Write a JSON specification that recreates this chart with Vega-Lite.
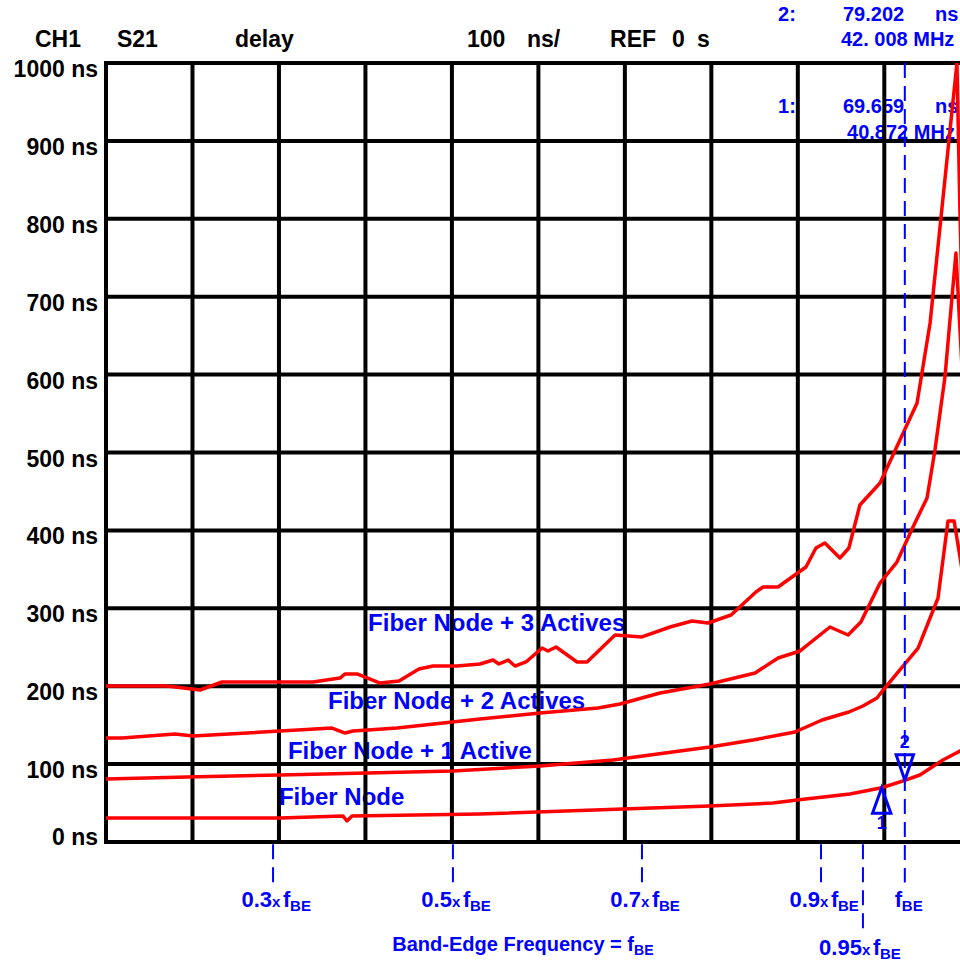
{
  "$schema": "https://vega.github.io/schema/vega-lite/v6.json",
  "width": 854,
  "height": 779,
  "autosize": {"type": "none"},
  "padding": {"left": 106, "top": 63, "right": 0, "bottom": 121},
  "background": "white",
  "config": {
    "view": {"stroke": null},
    "text": {"font": "Liberation Sans", "fontWeight": "bold"}
  },
  "datasets": {
    "curves": [
      {"series": "Fiber Node", "f": 2.75, "ns": 30.8},
      {"series": "Fiber Node", "f": 11.30, "ns": 30.8},
      {"series": "Fiber Node", "f": 14.40, "ns": 33.4},
      {"series": "Fiber Node", "f": 14.59, "ns": 27.0},
      {"series": "Fiber Node", "f": 14.84, "ns": 33.4},
      {"series": "Fiber Node", "f": 21.13, "ns": 35.9},
      {"series": "Fiber Node", "f": 28.16, "ns": 42.4},
      {"series": "Fiber Node", "f": 32.43, "ns": 46.2},
      {"series": "Fiber Node", "f": 35.53, "ns": 50.1},
      {"series": "Fiber Node", "f": 36.71, "ns": 53.9},
      {"series": "Fiber Node", "f": 39.31, "ns": 61.6},
      {"series": "Fiber Node", "f": 40.872, "ns": 69.659},
      {"series": "Fiber Node", "f": 42.008, "ns": 79.202},
      {"series": "Fiber Node", "f": 42.75, "ns": 86.0},
      {"series": "Fiber Node", "f": 43.88, "ns": 105.3},
      {"series": "Fiber Node", "f": 44.72, "ns": 116.8},
      {"series": "Fiber Node", "f": 45.2, "ns": 125.0},

      {"series": "Fiber Node + 1 Active", "f": 2.75, "ns": 80.9},
      {"series": "Fiber Node + 1 Active", "f": 6.73, "ns": 83.4},
      {"series": "Fiber Node + 1 Active", "f": 11.30, "ns": 86.0},
      {"series": "Fiber Node + 1 Active", "f": 15.58, "ns": 88.6},
      {"series": "Fiber Node + 1 Active", "f": 19.80, "ns": 91.1},
      {"series": "Fiber Node + 1 Active", "f": 24.08, "ns": 97.6},
      {"series": "Fiber Node + 1 Active", "f": 27.67, "ns": 105.3},
      {"series": "Fiber Node + 1 Active", "f": 30.96, "ns": 116.8},
      {"series": "Fiber Node + 1 Active", "f": 32.43, "ns": 122.0},
      {"series": "Fiber Node + 1 Active", "f": 34.55, "ns": 130.9},
      {"series": "Fiber Node + 1 Active", "f": 36.61, "ns": 141.2},
      {"series": "Fiber Node + 1 Active", "f": 37.94, "ns": 156.6},
      {"series": "Fiber Node + 1 Active", "f": 39.26, "ns": 166.9},
      {"series": "Fiber Node + 1 Active", "f": 39.95, "ns": 174.6},
      {"series": "Fiber Node + 1 Active", "f": 40.64, "ns": 184.9},
      {"series": "Fiber Node + 1 Active", "f": 40.94, "ns": 195.1},
      {"series": "Fiber Node + 1 Active", "f": 41.92, "ns": 225.9},
      {"series": "Fiber Node + 1 Active", "f": 42.66, "ns": 249.0},
      {"series": "Fiber Node + 1 Active", "f": 43.64, "ns": 313.2},
      {"series": "Fiber Node + 1 Active", "f": 44.13, "ns": 412.1},
      {"series": "Fiber Node + 1 Active", "f": 44.43, "ns": 412.1},
      {"series": "Fiber Node + 1 Active", "f": 44.72, "ns": 365.9},
      {"series": "Fiber Node + 1 Active", "f": 45.0, "ns": 320.0},

      {"series": "Fiber Node + 2 Actives", "f": 2.75, "ns": 133.5},
      {"series": "Fiber Node + 2 Actives", "f": 3.54, "ns": 133.5},
      {"series": "Fiber Node + 2 Actives", "f": 6.14, "ns": 138.6},
      {"series": "Fiber Node + 2 Actives", "f": 7.03, "ns": 136.1},
      {"series": "Fiber Node + 2 Actives", "f": 13.86, "ns": 146.3},
      {"series": "Fiber Node + 2 Actives", "f": 14.50, "ns": 139.9},
      {"series": "Fiber Node + 2 Actives", "f": 14.89, "ns": 142.5},
      {"series": "Fiber Node + 2 Actives", "f": 17.05, "ns": 146.3},
      {"series": "Fiber Node + 2 Actives", "f": 21.13, "ns": 157.9},
      {"series": "Fiber Node + 2 Actives", "f": 24.08, "ns": 165.6},
      {"series": "Fiber Node + 2 Actives", "f": 26.93, "ns": 172.0},
      {"series": "Fiber Node + 2 Actives", "f": 28.01, "ns": 177.2},
      {"series": "Fiber Node + 2 Actives", "f": 29.98, "ns": 191.3},
      {"series": "Fiber Node + 2 Actives", "f": 32.43, "ns": 202.8},
      {"series": "Fiber Node + 2 Actives", "f": 34.65, "ns": 216.9},
      {"series": "Fiber Node + 2 Actives", "f": 35.78, "ns": 236.2},
      {"series": "Fiber Node + 2 Actives", "f": 36.86, "ns": 245.2},
      {"series": "Fiber Node + 2 Actives", "f": 38.33, "ns": 276.0},
      {"series": "Fiber Node + 2 Actives", "f": 39.22, "ns": 265.7},
      {"series": "Fiber Node + 2 Actives", "f": 39.85, "ns": 282.4},
      {"series": "Fiber Node + 2 Actives", "f": 40.79, "ns": 332.5},
      {"series": "Fiber Node + 2 Actives", "f": 41.62, "ns": 359.4},
      {"series": "Fiber Node + 2 Actives", "f": 42.41, "ns": 404.4},
      {"series": "Fiber Node + 2 Actives", "f": 43.10, "ns": 441.6},
      {"series": "Fiber Node + 2 Actives", "f": 43.49, "ns": 503.2},
      {"series": "Fiber Node + 2 Actives", "f": 43.98, "ns": 596.9},
      {"series": "Fiber Node + 2 Actives", "f": 44.52, "ns": 756.0},
      {"series": "Fiber Node + 2 Actives", "f": 44.72, "ns": 657.0},
      {"series": "Fiber Node + 2 Actives", "f": 45.0, "ns": 520.0},

      {"series": "Fiber Node + 3 Actives", "f": 2.75, "ns": 200.3},
      {"series": "Fiber Node + 3 Actives", "f": 5.75, "ns": 200.3},
      {"series": "Fiber Node + 3 Actives", "f": 7.37, "ns": 195.1},
      {"series": "Fiber Node + 3 Actives", "f": 8.45, "ns": 205.4},
      {"series": "Fiber Node + 3 Actives", "f": 12.92, "ns": 205.4},
      {"series": "Fiber Node + 3 Actives", "f": 14.25, "ns": 210.5},
      {"series": "Fiber Node + 3 Actives", "f": 14.50, "ns": 215.7},
      {"series": "Fiber Node + 3 Actives", "f": 15.09, "ns": 215.7},
      {"series": "Fiber Node + 3 Actives", "f": 16.22, "ns": 204.1},
      {"series": "Fiber Node + 3 Actives", "f": 17.15, "ns": 206.7},
      {"series": "Fiber Node + 3 Actives", "f": 18.13, "ns": 222.1},
      {"series": "Fiber Node + 3 Actives", "f": 18.82, "ns": 225.9},
      {"series": "Fiber Node + 3 Actives", "f": 20.0, "ns": 225.9},
      {"series": "Fiber Node + 3 Actives", "f": 21.13, "ns": 228.5},
      {"series": "Fiber Node + 3 Actives", "f": 21.77, "ns": 233.6},
      {"series": "Fiber Node + 3 Actives", "f": 22.06, "ns": 228.5},
      {"series": "Fiber Node + 3 Actives", "f": 22.51, "ns": 233.6},
      {"series": "Fiber Node + 3 Actives", "f": 22.85, "ns": 225.9},
      {"series": "Fiber Node + 3 Actives", "f": 23.39, "ns": 231.1},
      {"series": "Fiber Node + 3 Actives", "f": 24.18, "ns": 249.0},
      {"series": "Fiber Node + 3 Actives", "f": 24.47, "ns": 245.2},
      {"series": "Fiber Node + 3 Actives", "f": 24.87, "ns": 250.3},
      {"series": "Fiber Node + 3 Actives", "f": 25.90, "ns": 231.1},
      {"series": "Fiber Node + 3 Actives", "f": 26.39, "ns": 231.1},
      {"series": "Fiber Node + 3 Actives", "f": 27.77, "ns": 265.7},
      {"series": "Fiber Node + 3 Actives", "f": 29.09, "ns": 263.2},
      {"series": "Fiber Node + 3 Actives", "f": 30.47, "ns": 276.0},
      {"series": "Fiber Node + 3 Actives", "f": 31.55, "ns": 283.7},
      {"series": "Fiber Node + 3 Actives", "f": 32.34, "ns": 281.1},
      {"series": "Fiber Node + 3 Actives", "f": 33.47, "ns": 291.4},
      {"series": "Fiber Node + 3 Actives", "f": 34.69, "ns": 320.9},
      {"series": "Fiber Node + 3 Actives", "f": 35.04, "ns": 327.3},
      {"series": "Fiber Node + 3 Actives", "f": 35.78, "ns": 327.3},
      {"series": "Fiber Node + 3 Actives", "f": 37.15, "ns": 353.0},
      {"series": "Fiber Node + 3 Actives", "f": 37.64, "ns": 377.4},
      {"series": "Fiber Node + 3 Actives", "f": 38.08, "ns": 383.8},
      {"series": "Fiber Node + 3 Actives", "f": 38.82, "ns": 364.6},
      {"series": "Fiber Node + 3 Actives", "f": 39.26, "ns": 377.4},
      {"series": "Fiber Node + 3 Actives", "f": 39.80, "ns": 432.6},
      {"series": "Fiber Node + 3 Actives", "f": 40.79, "ns": 460.8},
      {"series": "Fiber Node + 3 Actives", "f": 42.61, "ns": 563.5},
      {"series": "Fiber Node + 3 Actives", "f": 43.25, "ns": 666.2},
      {"series": "Fiber Node + 3 Actives", "f": 44.57, "ns": 1000.0},
      {"series": "Fiber Node + 3 Actives", "f": 44.72, "ns": 807.0},
      {"series": "Fiber Node + 3 Actives", "f": 45.0, "ns": 520.0}
    ],
    "vgrid": [
      {"f": 2.75}, {"f": 7.0}, {"f": 11.25}, {"f": 15.5}, {"f": 19.75},
      {"f": 24.0}, {"f": 28.25}, {"f": 32.5}, {"f": 36.75}, {"f": 41.0}
    ],
    "hgrid": [
      {"ns": 0, "label": "0 ns"}, {"ns": 100, "label": "100 ns"}, {"ns": 200, "label": "200 ns"},
      {"ns": 300, "label": "300 ns"}, {"ns": 400, "label": "400 ns"}, {"ns": 500, "label": "500 ns"},
      {"ns": 600, "label": "600 ns"}, {"ns": 700, "label": "700 ns"}, {"ns": 800, "label": "800 ns"},
      {"ns": 900, "label": "900 ns"}, {"ns": 1000, "label": "1000 ns"}
    ],
    "curveLabels": [
      {"label": "Fiber Node + 3 Actives", "f": 15.63, "ns": 279.8},
      {"label": "Fiber Node + 2 Actives", "f": 13.66, "ns": 179.7},
      {"label": "Fiber Node + 1 Active", "f": 11.69, "ns": 115.5},
      {"label": "Fiber Node", "f": 11.25, "ns": 56.5}
    ],
    "readouts": [
      {"label": "2:", "f": 35.78, "ns": 1062},
      {"label": "79.202", "f": 38.97, "ns": 1062},
      {"label": "ns", "f": 43.49, "ns": 1062},
      {"label": "42. 008 MHz", "f": 38.87, "ns": 1030},
      {"label": "1:", "f": 35.78, "ns": 943.5},
      {"label": "69.659", "f": 38.97, "ns": 943.5},
      {"label": "ns", "f": 43.49, "ns": 943.5},
      {"label": "40.872 MHz", "f": 39.17, "ns": 910}
    ],
    "header": [
      {"label": "CH1", "f": -0.74, "ns": 1029},
      {"label": "S21", "f": 3.29, "ns": 1029},
      {"label": "delay", "f": 9.09, "ns": 1029},
      {"label": "100", "f": 20.49, "ns": 1029},
      {"label": "ns/", "f": 23.44, "ns": 1029},
      {"label": "REF", "f": 27.52, "ns": 1029},
      {"label": "0", "f": 30.57, "ns": 1029},
      {"label": "s", "f": 31.79, "ns": 1029}
    ],
    "markers": [
      {"id": "1", "dir": "up", "f": 40.872, "ns": 69.659},
      {"id": "2", "dir": "down", "f": 42.008, "ns": 79.202}
    ],
    "dashes": [
      {"f": 42.008, "ns": 1000, "ns2": -52},
      {"f": 10.96, "ns": -3, "ns2": -52},
      {"f": 19.80, "ns": -3, "ns2": -52},
      {"f": 29.09, "ns": -3, "ns2": -52},
      {"f": 37.89, "ns": -3, "ns2": -52},
      {"f": 39.95, "ns": -3, "ns2": -115}
    ],
    "bandLabels": [
      {"num": "0.3", "f": 10.96, "ns": -84},
      {"num": "0.5", "f": 19.80, "ns": -84},
      {"num": "0.7", "f": 29.09, "ns": -84},
      {"num": "0.9", "f": 37.89, "ns": -84},
      {"num": "0.95", "f": 39.95, "ns": -145}
    ],
    "edgeLabel": [
      {"f": 42.008, "ns": -84}
    ],
    "caption": [
      {"label": "Band-Edge Frequency = f", "f": 28.70, "ns": -140}
    ]
  },
  "layer": [
    {
      "data": {"name": "curveLabels"},
      "mark": {"type": "text", "align": "left", "baseline": "middle", "fontSize": 24, "color": "#0000ff"},
      "encoding": {
        "x": {"field": "f", "type": "quantitative", "scale": {"domain": [2.75, 44.72], "nice": false, "zero": false}, "axis": null},
        "y": {"field": "ns", "type": "quantitative", "scale": {"domain": [0, 1000], "nice": false, "zero": false}, "axis": null},
        "text": {"field": "label"}
      }
    },
    {
      "data": {"name": "readouts"},
      "mark": {"type": "text", "align": "left", "baseline": "middle", "fontSize": 20, "color": "#0000ff"},
      "encoding": {
        "x": {"field": "f", "type": "quantitative", "axis": null},
        "y": {"field": "ns", "type": "quantitative", "axis": null},
        "text": {"field": "label"}
      }
    },
    {
      "data": {"name": "vgrid"},
      "mark": {"type": "rule", "color": "black", "strokeWidth": 4, "strokeCap": "square"},
      "encoding": {
        "x": {"field": "f", "type": "quantitative", "axis": null}
      }
    },
    {
      "data": {"name": "hgrid"},
      "mark": {"type": "rule", "color": "black", "strokeWidth": 4, "strokeCap": "square"},
      "encoding": {
        "y": {"field": "ns", "type": "quantitative", "axis": null}
      }
    },
    {
      "data": {"name": "hgrid"},
      "transform": [{"filter": "datum.ns > 0"}],
      "mark": {"type": "text", "align": "right", "baseline": "middle", "fontSize": 23, "color": "black", "dx": -8, "dy": 7},
      "encoding": {
        "x": {"datum": 2.75, "type": "quantitative", "axis": null},
        "y": {"field": "ns", "type": "quantitative", "axis": null},
        "text": {"field": "label"}
      }
    },
    {
      "data": {"name": "hgrid"},
      "transform": [{"filter": "datum.ns === 0"}],
      "mark": {"type": "text", "align": "right", "baseline": "middle", "fontSize": 23, "color": "black", "dx": -8, "dy": -4},
      "encoding": {
        "x": {"datum": 2.75, "type": "quantitative", "axis": null},
        "y": {"field": "ns", "type": "quantitative", "axis": null},
        "text": {"field": "label"}
      }
    },
    {
      "data": {"name": "curves"},
      "mark": {"type": "line", "color": "#ff0000", "strokeWidth": 3.5, "clip": true, "strokeJoin": "round"},
      "encoding": {
        "x": {"field": "f", "type": "quantitative", "axis": null},
        "y": {"field": "ns", "type": "quantitative", "axis": null},
        "detail": {"field": "series"},
        "order": {"field": "f", "type": "quantitative"}
      }
    },
    {
      "data": {"name": "dashes"},
      "mark": {"type": "rule", "color": "#0000ff", "strokeWidth": 2, "strokeDash": [15, 8]},
      "encoding": {
        "x": {"field": "f", "type": "quantitative", "axis": null},
        "y": {"field": "ns", "type": "quantitative", "axis": null},
        "y2": {"field": "ns2"}
      }
    },
    {
      "data": {"name": "markers"},
      "mark": {"type": "point", "filled": false, "color": "#0000ff", "strokeWidth": 3, "size": 650, "opacity": 1},
      "encoding": {
        "x": {"field": "f", "type": "quantitative", "axis": null},
        "y": {"field": "ns", "type": "quantitative", "axis": null},
        "shape": {"field": "dir", "type": "nominal", "legend": null,
          "scale": {"domain": ["up", "down"], "range": ["M0,0L-0.72,2L0.72,2Z", "M0,0L-0.68,-2L0.68,-2Z"]}}
      }
    },
    {
      "data": {"name": "markers"},
      "transform": [{"filter": "datum.id === '1'"}],
      "mark": {"type": "text", "align": "center", "baseline": "middle", "fontSize": 18, "color": "#0000ff", "dy": 36},
      "encoding": {
        "x": {"field": "f", "type": "quantitative", "axis": null},
        "y": {"field": "ns", "type": "quantitative", "axis": null},
        "text": {"field": "id"}
      }
    },
    {
      "data": {"name": "markers"},
      "transform": [{"filter": "datum.id === '2'"}],
      "mark": {"type": "text", "align": "center", "baseline": "middle", "fontSize": 18, "color": "#0000ff", "dy": -37},
      "encoding": {
        "x": {"field": "f", "type": "quantitative", "axis": null},
        "y": {"field": "ns", "type": "quantitative", "axis": null},
        "text": {"field": "id"}
      }
    },
    {
      "data": {"name": "header"},
      "mark": {"type": "text", "align": "left", "baseline": "middle", "fontSize": 23, "color": "black"},
      "encoding": {
        "x": {"field": "f", "type": "quantitative", "axis": null},
        "y": {"field": "ns", "type": "quantitative", "axis": null},
        "text": {"field": "label"}
      }
    },
    {
      "data": {"name": "bandLabels"},
      "mark": {"type": "text", "align": "right", "baseline": "alphabetic", "fontSize": 22, "color": "#0000ff", "dx": -1},
      "encoding": {
        "x": {"field": "f", "type": "quantitative", "axis": null},
        "y": {"field": "ns", "type": "quantitative", "axis": null},
        "text": {"field": "num"}
      }
    },
    {
      "data": {"name": "bandLabels"},
      "mark": {"type": "text", "align": "left", "baseline": "alphabetic", "fontSize": 15, "color": "#0000ff", "dx": -1},
      "encoding": {
        "x": {"field": "f", "type": "quantitative", "axis": null},
        "y": {"field": "ns", "type": "quantitative", "axis": null},
        "text": {"value": "x"}
      }
    },
    {
      "data": {"name": "bandLabels"},
      "mark": {"type": "text", "align": "left", "baseline": "alphabetic", "fontSize": 22, "color": "#0000ff", "dx": 10},
      "encoding": {
        "x": {"field": "f", "type": "quantitative", "axis": null},
        "y": {"field": "ns", "type": "quantitative", "axis": null},
        "text": {"value": "f"}
      }
    },
    {
      "data": {"name": "bandLabels"},
      "mark": {"type": "text", "align": "left", "baseline": "alphabetic", "fontSize": 15, "color": "#0000ff", "dx": 17, "dy": 4},
      "encoding": {
        "x": {"field": "f", "type": "quantitative", "axis": null},
        "y": {"field": "ns", "type": "quantitative", "axis": null},
        "text": {"value": "BE"}
      }
    },
    {
      "data": {"name": "edgeLabel"},
      "mark": {"type": "text", "align": "left", "baseline": "alphabetic", "fontSize": 22, "color": "#0000ff", "dx": -10},
      "encoding": {
        "x": {"field": "f", "type": "quantitative", "axis": null},
        "y": {"field": "ns", "type": "quantitative", "axis": null},
        "text": {"value": "f"}
      }
    },
    {
      "data": {"name": "edgeLabel"},
      "mark": {"type": "text", "align": "left", "baseline": "alphabetic", "fontSize": 15, "color": "#0000ff", "dx": -3, "dy": 4},
      "encoding": {
        "x": {"field": "f", "type": "quantitative", "axis": null},
        "y": {"field": "ns", "type": "quantitative", "axis": null},
        "text": {"value": "BE"}
      }
    },
    {
      "data": {"name": "caption"},
      "mark": {"type": "text", "align": "right", "baseline": "alphabetic", "fontSize": 20, "color": "#0000ff"},
      "encoding": {
        "x": {"field": "f", "type": "quantitative", "axis": null},
        "y": {"field": "ns", "type": "quantitative", "axis": null},
        "text": {"field": "label"}
      }
    },
    {
      "data": {"name": "caption"},
      "mark": {"type": "text", "align": "left", "baseline": "alphabetic", "fontSize": 14, "color": "#0000ff", "dy": 4},
      "encoding": {
        "x": {"field": "f", "type": "quantitative", "axis": null},
        "y": {"field": "ns", "type": "quantitative", "axis": null},
        "text": {"value": "BE"}
      }
    }
  ]
}
